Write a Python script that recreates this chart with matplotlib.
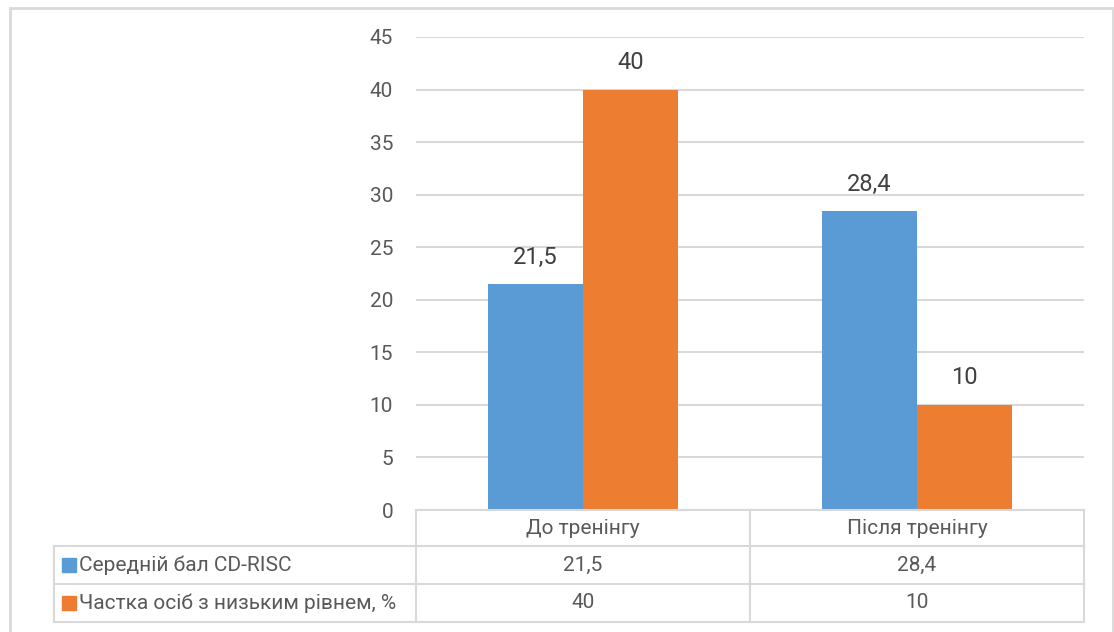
import numpy as np
import matplotlib
matplotlib.use('Agg')
import matplotlib.pyplot as plt
from matplotlib.patches import Rectangle
from matplotlib.lines import Line2D

# Data
categories = ['До тренінгу', 'Після тренінгу']
series_names = ['Середній бал CD-RISC', 'Частка осіб з низьким рівнем, %']
cd_risc = [21.5, 28.4]
low_share = [40, 10]
series_values = [cd_risc, low_share]
colors = ['#5B9BD5', '#ED7D31']
yticks = np.arange(0, 50, 5)


def fmt(v):
    # Ukrainian decimal comma
    return ('%g' % v).replace('.', ',')


plt.rcParams['font.family'] = ['Roboto', 'DejaVu Sans']
text_color = '#595959'
line_color = '#D9D9D9'

W, H = 1114, 632
fig = plt.figure(figsize=(W / 100, H / 100), dpi=100)

def fx(px):
    return px / W

def fy(py):
    return 1 - py / H

# Plot area (pixel layout)
left, right, top, bottom = 416, 1084, 37, 510
ax = fig.add_axes([fx(left), fy(bottom), fx(right - left), (bottom - top) / H])

x = np.arange(len(categories))
width = 0.2857
for i, (vals, c) in enumerate(zip(series_values, colors)):
    pos = x + (i - 0.5) * width
    bars = ax.bar(pos, vals, width=width, color=c, zorder=3)
    for b, v in zip(bars, vals):
        ax.annotate(fmt(v), (b.get_x() + b.get_width() / 2, b.get_height()),
                    xytext=(0, 27), textcoords='offset pixels',
                    ha='center', va='center', fontsize=17, color='#404040')

ax.set_xlim(-0.5, len(categories) - 0.5)
ax.set_ylim(0, 45)
ax.set_yticks(yticks)
ax.set_yticklabels([str(t) for t in yticks])
ax.tick_params(axis='y', length=0, pad=16.5, labelsize=15, labelcolor=text_color)
ax.set_xticks([])
ax.grid(axis='y', color=line_color, linewidth=1.5, zorder=0)
for s in ax.spines.values():
    s.set_visible(False)

# Data table below the plot
rows_y = [510, 546, 584, 622]
table_left = 54
col_edges = [left, (left + right) / 2, right]
lw = 1.5

def hline(x0, x1, y):
    fig.add_artist(Line2D([fx(x0), fx(x1)], [fy(y), fy(y)], color=line_color, lw=lw))

def vline(x, y0, y1):
    fig.add_artist(Line2D([fx(x), fx(x)], [fy(y0), fy(y1)], color=line_color, lw=lw))

hline(left, right, rows_y[0])
for y in rows_y[1:]:
    hline(table_left, right, y)
for xe in col_edges:
    vline(xe, rows_y[0], rows_y[-1])
vline(table_left, rows_y[1], rows_y[-1])

# header row: category names
for i, cat in enumerate(categories):
    cx = (col_edges[i] + col_edges[i + 1]) / 2
    fig.text(fx(cx), fy((rows_y[0] + rows_y[1]) / 2), cat, ha='center', va='center',
             fontsize=15, color=text_color)

# series rows
for r, (name, vals, c) in enumerate(zip(series_names, series_values, colors)):
    yc = (rows_y[r + 1] + rows_y[r + 2]) / 2
    fig.add_artist(Rectangle((fx(62), fy(yc + 7)), fx(14), 14 / H, color=c))
    fig.text(fx(79), fy(yc), name, ha='left', va='center', fontsize=15, color=text_color)
    for i, v in enumerate(vals):
        cx = (col_edges[i] + col_edges[i + 1]) / 2
        fig.text(fx(cx), fy(yc), fmt(v), ha='center', va='center',
                 fontsize=15, color=text_color)

# outer chart border
fig.add_artist(Rectangle((fx(9.5), fy(650)), fx(1113 - 9.5), (650 - 8) / H,
                         fill=False, edgecolor=line_color, lw=2))

fig.savefig('out.png', dpi=100)
